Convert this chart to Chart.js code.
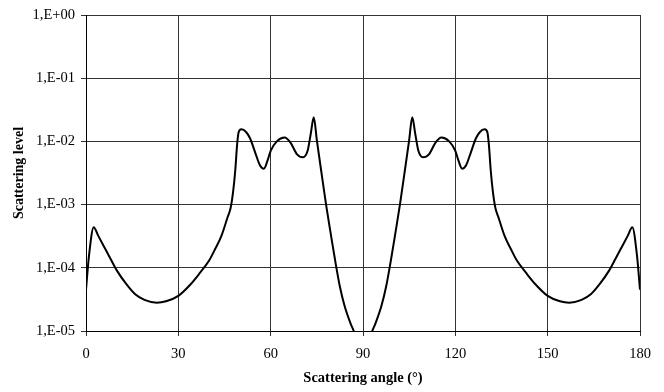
<!DOCTYPE html>
<html>
<head>
<meta charset="utf-8">
<script src="https://cdn.jsdelivr.net/npm/chart.js@4.4.1/dist/chart.umd.min.js"></script>
<style>
html,body{margin:0;padding:0;background:#fff;}
#wrap{width:664px;height:392px;}
</style>
</head>
<body>
<div id="wrap"><canvas id="c" width="664" height="392"></canvas></div>
<script>
// Scattering angle (degrees)
const angles = [
  0, 1, 2.5, 4, 6, 8, 10, 13, 16, 19, 23, 26, 30, 34, 37, 40, 42, 44, 46, 47, 47.8, 48.5, 49.1, 49.6, 50.5, 52, 53.3, 55, 56.5, 57.8, 59, 60, 62, 64.5, 66.5, 68.5, 70.5, 72, 73, 74, 75, 76.5, 78, 79.5, 81, 82.5, 84, 86, 87, 88, 90,
  92, 93, 94, 96, 97.5, 99, 100.5, 102, 103.5, 105, 106, 107, 108, 109.5, 111.5, 113.5, 115.5, 118, 120, 121, 122.2, 123.5, 125, 126.7, 128, 129.5, 130.4, 130.9, 131.5, 132.2, 133, 134, 136, 138, 140, 143, 146, 150, 154, 157, 161, 164, 167, 170, 172, 174, 176, 177.5, 179, 180
];
// Scattering level
const levels = [
  4.5e-5, 1.6e-4, 4.4e-4, 3.2e-4, 2.1e-4, 1.38e-4, 9.1e-5, 5.6e-5, 3.8e-5, 3.1e-5, 2.8e-5, 2.95e-5, 3.6e-5, 5.5e-5, 8.3e-5, 1.3e-4, 2.0e-4, 3.2e-4, 6.3e-4, 8.9e-4, 1.6e-3, 3.5e-3, 8.9e-3, 1.4e-2, 1.55e-2, 1.41e-2, 1.12e-2, 6.6e-3, 4.2e-3, 3.7e-3, 5.0e-3, 7.1e-3, 1.0e-2, 1.15e-2, 9.5e-3, 6.3e-3, 5.6e-3, 7.1e-3, 1.3e-2, 2.4e-2, 1.05e-2, 3.2e-3, 1.0e-3, 3.5e-4, 1.26e-4, 5.0e-5, 2.5e-5, 1.3e-5, 1.0e-5, 7e-6, 4e-6,
  7e-6, 1.0e-5, 1.3e-5, 2.5e-5, 5.0e-5, 1.26e-4, 3.5e-4, 1.0e-3, 3.2e-3, 1.05e-2, 2.4e-2, 1.3e-2, 7.1e-3, 5.6e-3, 6.3e-3, 9.5e-3, 1.15e-2, 1.0e-2, 7.1e-3, 5.0e-3, 3.7e-3, 4.2e-3, 6.6e-3, 1.12e-2, 1.41e-2, 1.55e-2, 1.4e-2, 8.9e-3, 3.5e-3, 1.6e-3, 8.9e-4, 6.3e-4, 3.2e-4, 2.0e-4, 1.3e-4, 8.3e-5, 5.5e-5, 3.6e-5, 2.95e-5, 2.8e-5, 3.1e-5, 3.8e-5, 5.6e-5, 9.1e-5, 1.38e-4, 2.1e-4, 3.2e-4, 4.4e-4, 1.6e-4, 4.5e-5
];
const xTicks = [0, 30, 60, 90, 120, 150, 180];
const yTicks = [1e-5, 1e-4, 1e-3, 1e-2, 1e-1, 1];
const yTickLabels = ['1,E-05', '1,E-04', '1,E-03', '1,E-02', '1,E-01', '1,E+00'];

const points = angles.map((a, i) => ({x: a, y: levels[i]}));
const FONT = "'Liberation Serif', 'Times New Roman', serif";

new Chart(document.getElementById('c'), {
  type: 'line',
  data: {
    datasets: [{
      data: points,
      borderColor: '#000',
      borderWidth: 2,
      pointRadius: 0,
      fill: false,
      cubicInterpolationMode: 'monotone'
    }]
  },
  options: {
    responsive: false,
    animation: false,
    events: [],
    layout: {padding: {left: 0, right: 24, top: 15, bottom: 0}},
    plugins: {legend: {display: false}, tooltip: {enabled: false}},
    scales: {
      x: {
        type: 'linear',
        min: 0, max: 180,
        afterBuildTicks: (axis) => { axis.ticks = xTicks.map(v => ({value: v})); },
        afterFit: (axis) => { axis.height = 61; },
        ticks: {color: '#000', font: {family: FONT, size: 14.5}, padding: 9, maxRotation: 0},
        grid: {color: '#333', lineWidth: 1, tickLength: 5},
        border: {color: '#000', width: 1},
        title: {display: true, text: 'Scattering angle (°)', color: '#000',
                font: {family: FONT, size: 14.5, weight: 'bold'}, padding: {top: 0, bottom: 5}}
      },
      y: {
        type: 'logarithmic',
        min: 1e-5, max: 1,
        afterBuildTicks: (axis) => { axis.ticks = yTicks.map(v => ({value: v})); },
        afterFit: (axis) => { axis.width = 86; },
        ticks: {color: '#000', font: {family: FONT, size: 14.5}, padding: 6,
                callback: (v) => { const i = yTicks.findIndex(t => Math.abs(Math.log10(t) - Math.log10(v)) < 1e-6); return i >= 0 ? yTickLabels[i] : ''; }},
        grid: {color: '#333', lineWidth: 1, tickLength: 5},
        border: {color: '#000', width: 1},
        title: {display: true, text: 'Scattering level', color: '#000',
                font: {family: FONT, size: 14, weight: 'bold'}, padding: {top: 11, bottom: 0}}
      }
    }
  }
});
</script>
</body>
</html>
